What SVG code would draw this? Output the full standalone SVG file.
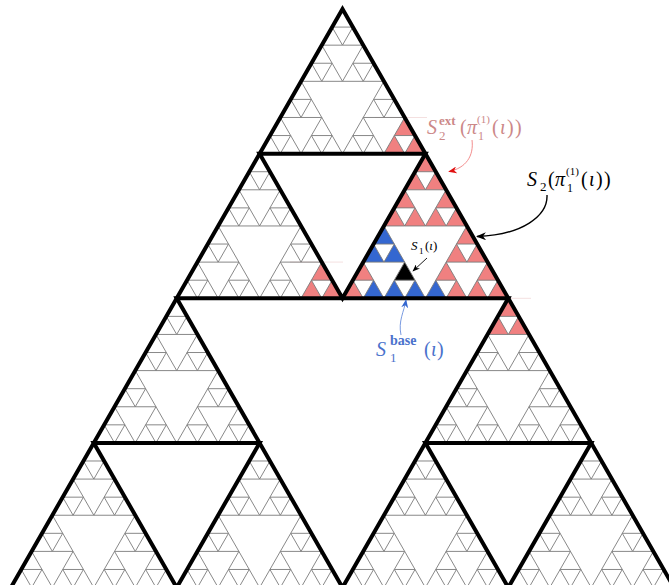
<svg xmlns="http://www.w3.org/2000/svg" width="669" height="585" viewBox="0 0 669 585">
<style>
.grid{fill:none;stroke:#7a7a7a;stroke-width:0.9}
.pk{fill:#f08080}
.bl{fill:#3467d0}
.bk{fill:#000}
.thick{fill:none;stroke:#000;stroke-width:4;stroke-linejoin:miter}
.faint{stroke:#f3dcdc;stroke-width:0.9}
.m{font-family:"Liberation Serif","DejaVu Serif",serif}
.i{font-style:italic}
.b{font-weight:bold}
.conn{fill:none}
</style>
<defs>
<polygon id="c" points="0,0 -10.3625,18.08 10.3625,18.08"/>
<g id="L1"><use href="#c"/><use href="#c" x="-10.3625" y="18.08"/><use href="#c" x="10.3625" y="18.08"/></g>
<g id="L2"><use href="#L1"/><use href="#L1" x="-20.725" y="36.16"/><use href="#L1" x="20.725" y="36.16"/></g>
<g id="L3"><use href="#L2"/><use href="#L2" x="-41.45" y="72.32"/><use href="#L2" x="41.45" y="72.32"/></g>
<g id="L4"><use href="#L3"/><use href="#L3" x="-82.9" y="144.64"/><use href="#L3" x="82.9" y="144.64"/></g>
<g id="L5"><use href="#L4"/><use href="#L4" x="-165.8" y="289.28"/><use href="#L4" x="165.8" y="289.28"/></g>
<marker id="ahR" viewBox="0 0 10 8" refX="9" refY="4" markerWidth="9" markerHeight="7" orient="auto" markerUnits="userSpaceOnUse"><path d="M0,0 L10,4 L0,8 L3,4 Z" fill="#e01010"/></marker>
<marker id="ahK" viewBox="0 0 10 8" refX="9" refY="4" markerWidth="11" markerHeight="8" orient="auto" markerUnits="userSpaceOnUse"><path d="M0,0 L10,4 L0,8 L3,4 Z" fill="#000"/></marker>
<marker id="ahS" viewBox="0 0 10 8" refX="9" refY="4" markerWidth="8" markerHeight="6" orient="auto" markerUnits="userSpaceOnUse"><path d="M0,0 L10,4 L0,8 L3,4 Z" fill="#000"/></marker>
<marker id="ahB" viewBox="0 0 10 8" refX="9" refY="4" markerWidth="9" markerHeight="7" orient="auto" markerUnits="userSpaceOnUse"><path d="M0,0 L10,4 L0,8 L3,4 Z" fill="#3467d0"/></marker>
</defs>
<rect width="669" height="585" fill="#fff"/>
<g id="faint-lines">
<line class="faint" x1="375" y1="117.5" x2="427" y2="117.5"/>
<line class="faint" x1="290" y1="262.1" x2="343" y2="262.1"/>
<line class="faint" x1="508" y1="298.3" x2="531" y2="298.3"/>
</g>
<g id="ext-cells" class="pk">
<use href="#c" x="425.4" y="153.64"/>
<use href="#c" x="415.04" y="171.72"/><use href="#c" x="435.76" y="171.72"/>
<use href="#c" x="404.675" y="189.8"/><use href="#c" x="446.125" y="189.8"/>
<use href="#c" x="394.31" y="207.88"/><use href="#c" x="415.04" y="207.88"/><use href="#c" x="435.76" y="207.88"/><use href="#c" x="456.49" y="207.88"/>
<use href="#c" x="466.85" y="225.96"/>
<use href="#c" x="456.49" y="244.04"/><use href="#c" x="477.21" y="244.04"/>
<use href="#c" x="446.125" y="262.12"/><use href="#c" x="487.575" y="262.12"/>
<use href="#c" x="456.49" y="280.2"/><use href="#c" x="477.21" y="280.2"/><use href="#c" x="497.94" y="280.2"/>
<use href="#c" x="363.225" y="262.12"/>
<use href="#c" x="352.86" y="280.2"/>
<use href="#c" x="404.675" y="117.48"/><use href="#c" x="394.31" y="135.56"/><use href="#c" x="415.04" y="135.56"/>
<use href="#c" x="321.775" y="262.12"/><use href="#c" x="311.41" y="280.2"/><use href="#c" x="332.14" y="280.2"/>
<use href="#c" x="508.3" y="298.28"/><use href="#c" x="497.94" y="316.36"/><use href="#c" x="518.66" y="316.36"/>
</g>
<g id="base-cells" class="bl">
<use href="#c" x="383.95" y="225.96"/>
<use href="#c" x="373.59" y="244.04"/><use href="#c" x="394.31" y="244.04"/>
<use href="#c" x="373.59" y="280.2"/><use href="#c" x="394.31" y="280.2"/><use href="#c" x="415.04" y="280.2"/><use href="#c" x="435.76" y="280.2"/>
</g>
<g id="s1-cell" class="bk"><use href="#c" x="404.675" y="262.12"/></g>
<g id="sierpinski-grid"><use href="#L5" x="342.5" y="9" class="grid"/></g>
<g id="thick-outlines" class="thick">
<polygon points="342.5,9 10.9,587.56 674.1,587.56"/>
<polygon points="176.7,298.28 508.3,298.28 342.5,587.56"/>
<polygon points="259.6,153.64 425.4,153.64 342.5,298.28"/>
<polygon points="93.8,442.92 259.6,442.92 176.7,587.56"/>
<polygon points="425.4,442.92 591.2,442.92 508.3,587.56"/>
</g>
<g id="connectors" class="conn">
<path d="M 472 140 C 474 156, 466 168, 449 171.5" stroke="#f08080" stroke-width="0.9" marker-end="url(#ahR)"/>
<path d="M 547 195 C 548 216, 522 235, 477 236.5" stroke="#000" stroke-width="1.4" marker-end="url(#ahK)"/>
<path d="M 427 258 L 413 271" stroke="#000" stroke-width="0.9" marker-end="url(#ahS)"/>
<path d="M 401 335 C 398 321, 404 312, 406 300" stroke="#6a8fdc" stroke-width="0.9" marker-end="url(#ahB)"/>
</g>
<g id="label-ext" class="m" fill="#cc8888">
<text x="427" y="134" font-size="20" class="i">S</text>
<text x="439" y="125" font-size="13" class="b">ext</text>
<text x="439" y="140" font-size="13">2</text>
<text x="460" y="134" font-size="20">(</text>
<text x="467" y="134" font-size="20" class="i">π</text>
<text x="477" y="123" font-size="11">(1)</text>
<text x="478" y="140" font-size="12">1</text>
<text x="492" y="134" font-size="20">(</text>
<text x="500" y="134" font-size="20" class="i">ι</text>
<text x="507" y="134" font-size="20">)</text>
<text x="515" y="134" font-size="20">)</text>
</g>
<g id="label-s2" class="m" fill="#000">
<text x="527" y="186" font-size="20" class="i">S</text>
<text x="540" y="191" font-size="13">2</text>
<text x="548" y="186" font-size="20">(</text>
<text x="555" y="186" font-size="20" class="i">π</text>
<text x="566" y="175" font-size="11">(1)</text>
<text x="567" y="192" font-size="12">1</text>
<text x="581" y="186" font-size="20">(</text>
<text x="589" y="186" font-size="20" class="i">ι</text>
<text x="596" y="186" font-size="20">)</text>
<text x="604" y="186" font-size="20">)</text>
</g>
<g id="label-s1" class="m" fill="#000">
<text x="411" y="250" font-size="13" class="i">S</text>
<text x="419" y="254" font-size="9">1</text>
<text x="425" y="250" font-size="13">(<tspan class="i">ι</tspan>)</text>
</g>
<g id="label-base" class="m" fill="#4a72cc">
<text x="376" y="356" font-size="20" class="i">S</text>
<text x="390" y="345" font-size="14" class="b">base</text>
<text x="390" y="362" font-size="13">1</text>
<text x="424" y="356" font-size="20">(</text>
<text x="431" y="356" font-size="20" class="i">ι</text>
<text x="437" y="356" font-size="20">)</text>
</g>
</svg>
